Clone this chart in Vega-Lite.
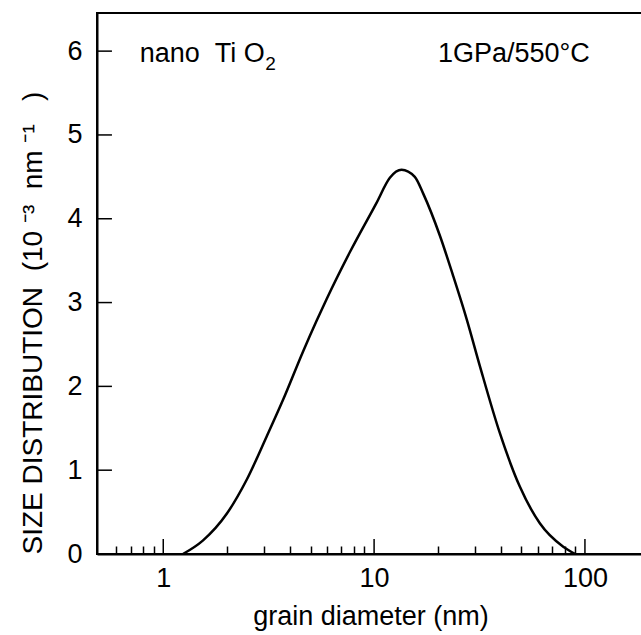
{
  "$schema": "https://vega.github.io/schema/vega-lite/v6.json",
  "width": 547,
  "height": 541,
  "autosize": {"type": "none"},
  "padding": {"left": 97, "top": 13, "right": 0, "bottom": 81},
  "background": "white",
  "config": {
    "font": "Liberation Sans",
    "view": {"stroke": "black", "strokeWidth": 2},
    "axis": {
      "grid": false,
      "domainColor": "black",
      "domainWidth": 2,
      "tickColor": "black",
      "tickWidth": 1.5,
      "labelColor": "black",
      "titleColor": "black",
      "labelFont": "Liberation Sans",
      "titleFont": "Liberation Sans",
      "labelFontSize": 27,
      "titleFontSize": 27,
      "titleFontWeight": "normal"
    }
  },
  "datasets": {
    "curve": [
      {"d": 1.24, "v": 0.0},
      {"d": 1.54, "v": 0.16},
      {"d": 2.0, "v": 0.48},
      {"d": 2.48, "v": 0.88},
      {"d": 3.09, "v": 1.4},
      {"d": 3.7, "v": 1.84},
      {"d": 4.61, "v": 2.42},
      {"d": 5.33, "v": 2.78},
      {"d": 5.95, "v": 3.04},
      {"d": 7.67, "v": 3.6},
      {"d": 10.27, "v": 4.19},
      {"d": 11.88, "v": 4.49},
      {"d": 13.5, "v": 4.585},
      {"d": 15.6, "v": 4.5},
      {"d": 17.1, "v": 4.3},
      {"d": 20.5, "v": 3.8},
      {"d": 23.7, "v": 3.32},
      {"d": 27.5, "v": 2.8},
      {"d": 31.8, "v": 2.236},
      {"d": 39.5, "v": 1.441},
      {"d": 49.1, "v": 0.804},
      {"d": 61.1, "v": 0.367},
      {"d": 78.9, "v": 0.087},
      {"d": 90.0, "v": 0.0}
    ],
    "xmajor": [{"d": 1}, {"d": 10}, {"d": 100}],
    "ymajor": [{"v": 1}, {"v": 2}, {"v": 3}, {"v": 4}, {"v": 5}, {"v": 6}],
    "notes": [
      {"d": 0.774, "v": 5.87, "t": "nano\u00a0\u00a0Ti\u00a0O"},
      {"d": 20.07, "v": 5.87, "t": "1GPa/550°C"}
    ],
    "subs": [
      {"d": 3.05, "v": 5.78, "t": "2"}
    ]
  },
  "layer": [
    {
      "data": {"name": "curve"},
      "mark": {"type": "line", "color": "black", "strokeWidth": 2.5, "interpolate": "monotone"},
      "encoding": {
        "x": {
          "field": "d", "type": "quantitative",
          "scale": {"type": "log", "domain": [0.485, 190.6], "nice": false},
          "axis": {
            "orient": "bottom",
            "values": [1, 10, 100],
            "format": "~g",
            "ticks": false,
            "labelPadding": 11,
            "title": "grain diameter (nm)",
            "titleBaseline": "alphabetic",
            "titleY": 70
          }
        },
        "y": {
          "field": "v", "type": "quantitative",
          "scale": {"domain": [0, 6.455], "nice": false, "zero": true},
          "axis": {
            "orient": "left",
            "values": [0, 1, 2, 3, 4, 5, 6],
            "ticks": false,
            "labelPadding": 15,
            "title": "SIZE DISTRIBUTION\u00a0\u00a0(10\u00a0⁻³\u00a0\u00a0nm\u00a0⁻¹\u00a0\u00a0\u00a0)",
            "titleFontSize": 28,
            "titleAngle": -90,
            "titleAlign": "left",
            "titleBaseline": "alphabetic",
            "titleX": -56,
            "titleY": 541
          }
        }
      }
    },
    {
      "data": {"name": "curve"},
      "mark": {"type": "point", "opacity": 0},
      "encoding": {
        "x": {
          "field": "d", "type": "quantitative",
          "axis": {
            "orient": "bottom",
            "values": [0.6, 0.7, 0.8, 0.9, 2, 3, 4, 5, 6, 7, 8, 9, 20, 30, 40, 50, 60, 70, 80, 90],
            "tickSize": -8,
            "labels": false,
            "domain": false,
            "title": null
          }
        },
        "y": {"field": "v", "type": "quantitative", "axis": null}
      }
    },
    {
      "data": {"name": "xmajor"},
      "mark": {"type": "rule", "color": "black", "strokeWidth": 1.5},
      "encoding": {
        "x": {"field": "d", "type": "quantitative", "axis": null},
        "y": {"datum": 0, "type": "quantitative", "axis": null},
        "y2": {"datum": 0.179}
      }
    },
    {
      "data": {"name": "ymajor"},
      "mark": {"type": "rule", "color": "black", "strokeWidth": 1.5},
      "encoding": {
        "y": {"field": "v", "type": "quantitative", "axis": null},
        "x": {"datum": 0.485, "type": "quantitative", "axis": null},
        "x2": {"datum": 0.571}
      }
    },
    {
      "data": {"name": "notes"},
      "mark": {"type": "text", "align": "left", "baseline": "alphabetic", "fontSize": 27, "font": "Liberation Sans", "color": "black"},
      "encoding": {
        "x": {"field": "d", "type": "quantitative", "axis": null},
        "y": {"field": "v", "type": "quantitative", "axis": null},
        "text": {"field": "t"}
      }
    },
    {
      "data": {"name": "subs"},
      "mark": {"type": "text", "align": "left", "baseline": "alphabetic", "fontSize": 19, "font": "Liberation Sans", "color": "black"},
      "encoding": {
        "x": {"field": "d", "type": "quantitative", "axis": null},
        "y": {"field": "v", "type": "quantitative", "axis": null},
        "text": {"field": "t"}
      }
    }
  ],
  "resolve": {"axis": {"x": "independent", "y": "independent"}}
}
